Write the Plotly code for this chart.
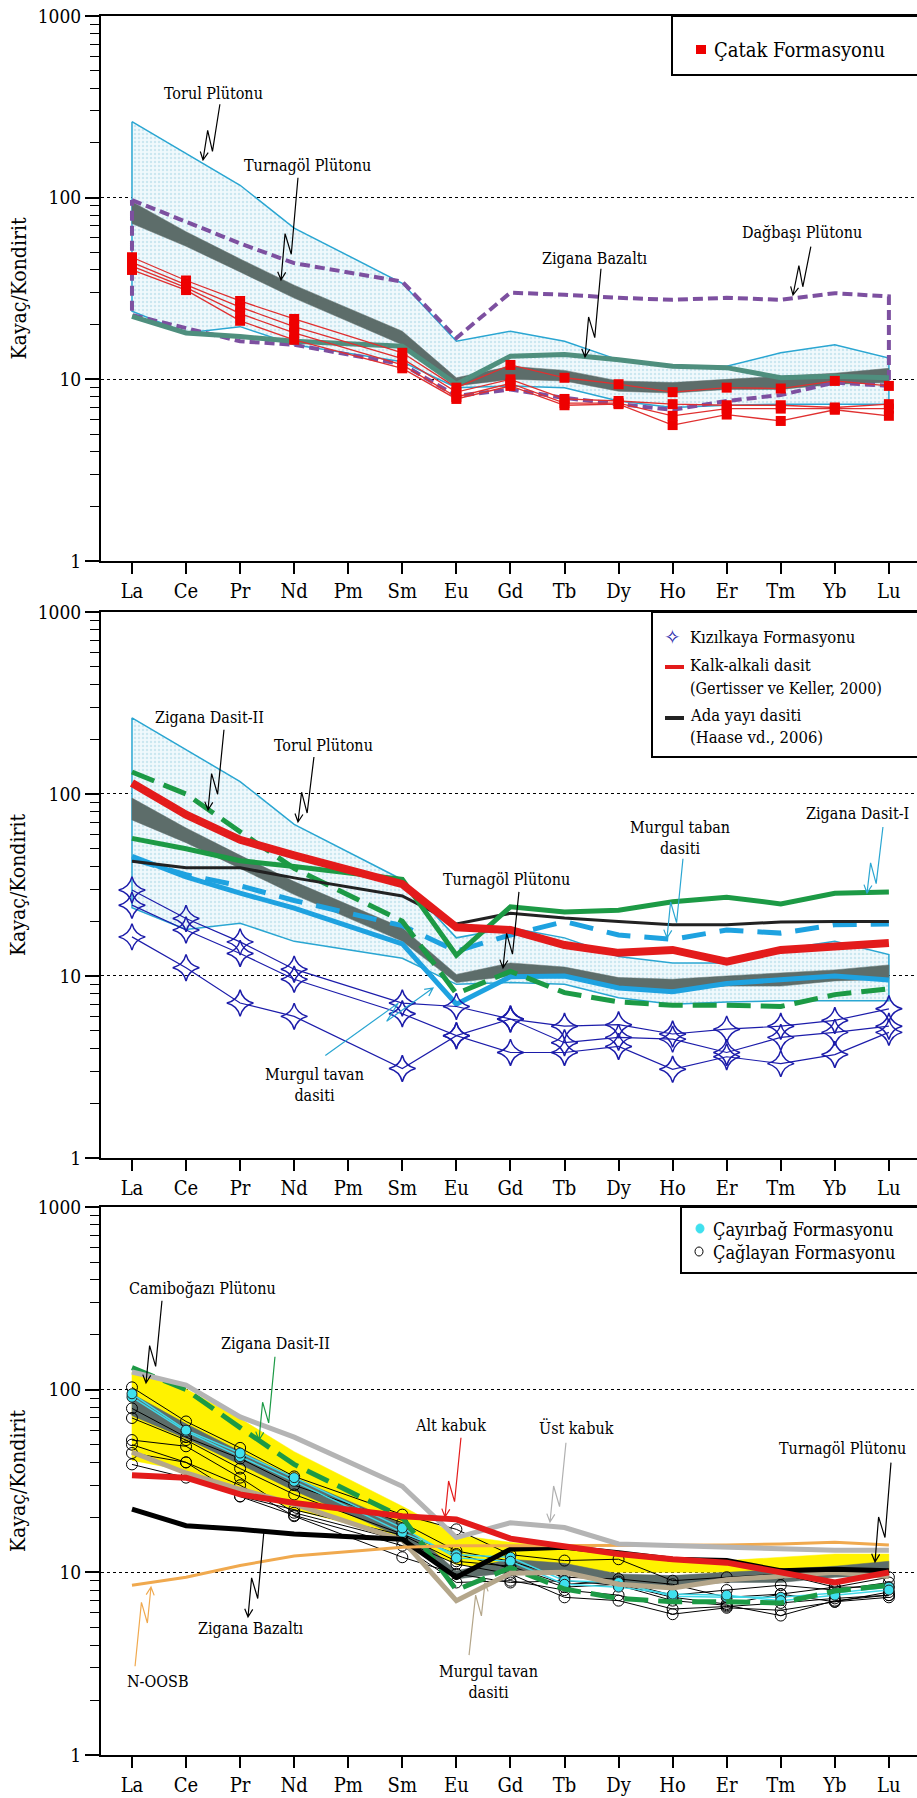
import math
import plotly.graph_objects as go

# ---------------- data ----------------
elements = ["La", "Ce", "Pr", "Nd", "Pm", "Sm", "Eu", "Gd", "Tb", "Dy", "Ho", "Er", "Tm", "Yb", "Lu"]
N = None

# envelopes / reference patterns
torul_upper = [262, 175, 117, 68, N, 33.8, 16.2, 18.4, 16.2, 12.8, 11.8, 11.8, 14.0, 15.5, 13.1]
torul_lower = [23.7, 18.0, 19.5, 15.5, N, 12.5, 9.0, 9.2, 9.0, 7.6, 7.0, 7.2, 7.3, 7.3, 7.3]
turnagol_upper = [95, 65, 46, 33, N, 18.4, 10.2, 11.8, 11.2, 9.8, 9.6, 10.0, 10.4, 10.8, 11.5]
turnagol_lower = [72, 54, 39, 28, N, 15.5, 9.2, 10.0, 9.8, 8.6, 8.4, 8.8, 8.8, 9.4, 9.6]
dagbasi_upper = [97, 74, 56, 43.6, N, 34.5, 16.9, 30.0, 29.2, 28.1, 27.4, 28.1, 27.4, 29.8, 28.6]
dagbasi_lower = [22.6, 19.1, 16.2, 15.5, N, 12.1, 8.1, 8.8, 7.9, 7.3, 6.8, 7.6, 8.2, 9.6, 9.2]
zigana_bazalti = [22.2, 18.0, 17.2, 16.2, N, 15.2, 9.4, 13.4, 13.7, 12.8, 11.8, 11.6, 10.2, 10.4, 10.2]

# Panel 1 samples - Catak Formasyonu
catak_1 = [47, 35, 27, 21.5, N, 14.0, 9.0, 12.0, 10.2, 9.4, 8.5, 9.0, 8.9, 9.8, 9.2]
catak_2 = [44, 33, 25, 19.5, N, 13.0, 8.5, 10.0, 7.8, 7.6, 7.3, 7.2, 7.2, 7.0, 7.3]
catak_3 = [42, 32, 23, 18.0, N, 12.0, 8.0, 9.5, 7.4, 7.4, 6.3, 6.9, 6.9, 6.9, 6.9]
catak_4 = [40, 31, 21, 16.5, N, 11.5, 7.8, 9.2, 7.2, 7.3, 5.6, 6.4, 5.9, 6.8, 6.3]

# Panel 2 patterns
zigana_dasit_2 = [132, 100, 62, 39, N, 20, 8.0, 10.6, 8.1, 7.2, 6.9, 6.9, 6.8, 7.9, 8.5]
kalk_alkali = [115, 77, 56, 46, N, 32, 18.5, 17.9, 14.8, 13.4, 13.9, 12.0, 13.9, 14.5, 15.2]
ada_yayi = [42.7, 39.3, 39.3, 34.6, N, 27.5, 19.3, 22.1, 20.8, 19.9, 19.1, 19.1, 19.8, 19.9, 19.9]
zigana_dasit_1 = [57, 50, 43, 40, N, 34, 13.0, 24, 22.5, 23, 25.6, 27.1, 24.9, 28.5, 28.9]
murgul_taban = [44, 36, 31.3, 26, N, 18.9, 13.7, 16.8, 19.9, 16.8, 15.9, 17.9, 17.2, 19.1, 19.3]
murgul_tavan = [45.5, 35, 28.5, 23.6, N, 15.0, 7.0, 9.9, 10.0, 8.6, 8.2, 9.1, 9.6, 10.0, 9.5]

# Panel 2 samples - Kizilkaya Formasyonu
kizilkaya_1 = [29.7, 20.7, 15.4, 10.9, N, 7.1, 6.8, 5.8, 5.3, 5.4, 4.8, 5.1, 5.3, 5.7, 6.6]
kizilkaya_2 = [24.5, 17.9, 13.3, 9.6, N, 6.2, 4.7, 5.8, 4.3, 4.6, 4.5, 3.8, 4.6, 4.9, 5.3]
kizilkaya_3 = [16.4, 11.1, 7.1, 6.0, N, 3.1, 4.7, 3.8, 3.8, 4.1, 3.07, 3.6, 3.3, 3.7, 4.9]

# Panel 3 patterns
camibogazi_upper = [125, 101, 69.5, 45.8, N, 23, 16, 14.6, 13.7, 12.3, 11.6, 11.6, 12.1, 12.6, 12.6]
camibogazi_lower = [41, 36, 29, 22, N, 15.5, 11, 10.5, 10.2, 10, 10, 10, 10, 10, 10]
ust_kabuk = [125, 106, 71, 55, N, 29.6, 15.5, 18.7, 17.6, 14.3, 14.0, 13.8, 13.6, 13.2, 13.2]
alt_kabuk = [34, 33, 26.7, 24, N, 20.3, 19.5, 15.3, 14.0, 12.6, 11.8, 11.3, 10.0, 8.8, 10.0]
n_oosb = [8.5, 9.4, 10.9, 12.3, N, 13.7, 14.0, 14.0, 14.0, 14.0, 14.0, 14.1, 14.3, 14.6, 14.1]

# Panel 3 samples
caglayan_1 = [103, 67, 48, 33.5, N, 20.7, 17.2, 12.5, 11.6, 11.8, 9.0, 9.4, 9.8, 8.3, 9.4]
caglayan_2 = [79, 55, 42, 30, N, 18.7, 13.1, 11.5, 9.4, 9.2, 8.6, 7.3, 7.6, 8.3, 8.3]
caglayan_3 = [70, 53, 37, 26.7, N, 16.2, 12.6, 10.5, 8.3, 8.6, 7.3, 6.7, 7.6, 6.9, 7.8]
caglayan_4 = [53, 49, 33, 21.2, N, 14.9, 11.1, 9.8, 7.3, 7.0, 5.9, 6.4, 6.2, 6.9, 7.3]
caglayan_5 = [50, 40, 30, 20.3, N, 12.1, 9.8, 8.8, 9.0, 8.5, 7.0, 6.6, 5.8, 7.0, 7.5]
caglayan_6 = [45, 40, 26, 20.5, N, 14.0, 8.8, 9.0, 8.0, 7.5, 6.3, 6.5, 6.8, 7.2, 7.5]
caglayan_7 = [39, 33, 26.1, 22, N, 16.0, 11.5, 10.8, 8.6, 8.9, 7.5, 8.0, 8.5, 8.0, 8.8]
cayirbag_1 = [91, 59, 43, 31.5, N, 16.5, 12.5, 12.1, 9.0, 8.8, 7.4, 7.3, 7.3, 7.7, 8.3]
cayirbag_2 = [95, 60, 45, 33, N, 17.5, 12.0, 11.5, 8.6, 8.3, 7.6, 7.5, 7.0, 7.5, 8.0]

y_ticks = [1, 10, 100, 1000]

# ---------------- geometry ----------------
W, H = 917, 1798
ML, MR, MT, MB = 101, 0, 16, 43
PW = W - ML - MR
PH = H - MT - MB


def px(x):
    return (x - ML) / PW


def py(y):
    return (H - MB - y) / PH


FONT = "DejaVu Serif Condensed, Liberation Serif, DejaVu Serif, serif"
xidx = list(range(len(elements)))

fig = go.Figure()


def axes(row):
    return ("x" if row == 1 else f"x{row}", "y" if row == 1 else f"y{row}")


def add_line(row, vals, color, width, dash="solid", mode="lines", marker=None):
    xa, ya = axes(row)
    fig.add_trace(go.Scatter(
        x=xidx, y=vals, xaxis=xa, yaxis=ya, mode=mode, connectgaps=True,
        line=dict(color=color, width=width, dash=dash),
        marker=marker, showlegend=False, hoverinfo="skip"))


def add_band(row, upper, lower, fillcolor, linecolor=None, width=0, dash="solid",
             fill=True, pattern=None):
    xa, ya = axes(row)
    idx = [i for i, v in enumerate(upper) if v is not None]
    xs = idx + idx[::-1] + [idx[0]]
    ys = [upper[i] for i in idx] + [lower[i] for i in idx[::-1]] + [upper[idx[0]]]
    kw = {}
    if fill:
        kw["fill"] = "toself"
        kw["fillcolor"] = fillcolor
        if pattern:
            kw["fillpattern"] = pattern
    fig.add_trace(go.Scatter(
        x=xs, y=ys, xaxis=xa, yaxis=ya, mode="lines",
        line=dict(color=linecolor if linecolor else fillcolor, width=width, dash=dash),
        showlegend=False, hoverinfo="skip", **kw))


CYAN_T = "#2aa6d2"
GRAY_B = "#5d6d6a"
PURPLE = "#7d50a0"
ZB_GREEN = "#4f8f7e"
RED = "#e31b1b"
GREEN = "#1c9a45"
CYAN = "#1ea2e0"
BLUE = "#1c1caa"

torul_pattern = dict(shape=".", bgcolor="#f0f9fc", fgcolor="#a6d3e4", size=4, solidity=0.3)

# ---- Panel 1 ----
add_band(1, torul_upper, torul_lower, "#f0f9fc", CYAN_T, 1.5, pattern=torul_pattern)
add_band(1, turnagol_upper, turnagol_lower, GRAY_B, GRAY_B, 0.5)
add_band(1, dagbasi_upper, dagbasi_lower, None, PURPLE, 4, dash="10px,5px", fill=False)
add_line(1, zigana_bazalti, ZB_GREEN, 5)
for s in [catak_1, catak_2, catak_3, catak_4]:
    add_line(1, s, "#e03030", 1.3, mode="lines+markers",
             marker=dict(symbol="square", size=10, color="#ee0000"))

# ---- Panel 2 ----
add_band(2, torul_upper, torul_lower, "#f0f9fc", CYAN_T, 1.5, pattern=torul_pattern)
add_band(2, turnagol_upper, turnagol_lower, GRAY_B, GRAY_B, 0.5)
add_line(2, murgul_tavan, CYAN, 5)
add_line(2, murgul_taban, CYAN, 5, dash="24px,14px")
add_line(2, zigana_dasit_2, GREEN, 5, dash="24px,10px")
add_line(2, ada_yayi, "#222222", 3)
add_line(2, zigana_dasit_1, GREEN, 5)
add_line(2, kalk_alkali, RED, 8)
for s in [kizilkaya_1, kizilkaya_2, kizilkaya_3]:
    add_line(2, s, BLUE, 1.2, mode="lines+markers",
             marker=dict(symbol="star-diamond-open", size=19, color=BLUE,
                         line=dict(width=1.5, color=BLUE)))

# ---- Panel 3 ----
add_band(3, camibogazi_upper, camibogazi_lower, "#fff200", "#fff200", 0.5)
add_band(3, turnagol_upper, turnagol_lower, GRAY_B, GRAY_B, 0.5)
for s in [caglayan_1, caglayan_2, caglayan_3, caglayan_4, caglayan_5, caglayan_6, caglayan_7]:
    add_line(3, s, "#000000", 1, mode="lines+markers",
             marker=dict(symbol="circle-open", size=11, color="#000000",
                         line=dict(width=1, color="#000000")))
for s in [cayirbag_1, cayirbag_2]:
    add_line(3, s, "#3fd8e8", 1.5, mode="lines+markers",
             marker=dict(symbol="circle", size=10, color="#3fe0ee",
                         line=dict(width=1, color="#222222")))
add_line(3, zigana_dasit_2, GREEN, 5, dash="24px,10px")
add_line(3, murgul_tavan, "#b4a68a", 5)
add_line(3, zigana_bazalti, "#000000", 5)
add_line(3, n_oosb, "#f0a94e", 3)
add_line(3, ust_kabuk, "#b4b4b4", 5)
add_line(3, alt_kabuk, RED, 6)

# ---------------- axes ----------------
domains = [(0.6866, 1.0), (0.3433, 0.6573), (0.0, 0.3151)]
minor_vals = [m * 10 ** k for k in range(3) for m in range(2, 10)]
for r in range(1, 4):
    xa = "xaxis" if r == 1 else f"xaxis{r}"
    ya = "yaxis" if r == 1 else f"yaxis{r}"
    yname = "y" if r == 1 else f"y{r}"
    xname = "x" if r == 1 else f"x{r}"
    fig.update_layout(**{
        xa: dict(domain=[0, 1], anchor=yname, range=[-0.573, 14.52],
                 tickmode="array", tickvals=xidx, ticktext=elements,
                 ticks="outside", ticklen=11, tickwidth=1.5, tickcolor="black",
                 showline=True, linewidth=2, linecolor="black", mirror=True,
                 showgrid=False, zeroline=False,
                 tickfont=dict(family=FONT, size=20, color="black")),
        ya: dict(domain=list(domains[r - 1]), anchor=xname, type="log", range=[0, 3],
                 tickmode="array", tickvals=y_ticks, ticktext=[str(v) for v in y_ticks],
                 ticks="outside", ticklen=14, tickwidth=1.5, tickcolor="black",
                 minor=dict(tickmode="array", tickvals=minor_vals, ticks="outside",
                            ticklen=9, tickwidth=1.3, tickcolor="black", showgrid=False),
                 showline=True, linewidth=2, linecolor="black",
                 showgrid=True, gridcolor="black", griddash="dot", gridwidth=1.3,
                 zeroline=False,
                 tickfont=dict(family=FONT, size=19, color="black")),
    })

# ---------------- annotations & shapes ----------------
annotations = []
shapes = []


def text(t, x, y, size=16, xanchor="center", color="black", family=FONT):
    annotations.append(dict(text=t, x=px(x), y=py(y), xref="paper", yref="paper",
                            xanchor=xanchor, yanchor="middle", showarrow=False,
                            font=dict(family=family, size=size, color=color)))


def zig_arrow(tail, tip, color="black", width=1.2):
    tx, ty = tip
    dx, dy = tip[0] - tail[0], tip[1] - tail[1]
    L = math.hypot(dx, dy)
    ux, uy = dx / L, dy / L
    pxv, pyv = uy, -ux
    a = max(0.45 * L, 30)
    S = (tx - L * ux + 8 * pxv, ty - L * uy + 8 * pyv)
    M1 = (tx - (a - 20) * ux + 8 * pxv, ty - (a - 20) * uy + 8 * pyv)
    M2 = (tx - a * ux, ty - a * uy)
    h1 = (tx - 8 * ux + 4 * pxv, ty - 8 * uy + 4 * pyv)
    h2 = (tx - 8 * ux - 4 * pxv, ty - 8 * uy - 4 * pyv)
    pts = [S, M1, M2, (tx, ty)]
    path = "M " + " L ".join(f"{px(p[0]):.5f},{py(p[1]):.5f}" for p in pts)
    path += f" M {px(h1[0]):.5f},{py(h1[1]):.5f} L {px(tx):.5f},{py(ty):.5f} L {px(h2[0]):.5f},{py(h2[1]):.5f}"
    shapes.append(dict(type="path", path=path, xref="paper", yref="paper",
                       line=dict(color=color, width=width)))


def rect(x0, y0, x1, y1, color="black", width=2, fill=None):
    shapes.append(dict(type="rect", xref="paper", yref="paper",
                       x0=px(x0), x1=px(x1), y0=py(y1), y1=py(y0),
                       line=dict(color=color, width=width),
                       fillcolor=fill if fill else "rgba(0,0,0,0)"))


def seg(x0, y0, x1, y1, color, width):
    shapes.append(dict(type="line", xref="paper", yref="paper",
                       x0=px(x0), x1=px(x1), y0=py(y0), y1=py(y1),
                       line=dict(color=color, width=width)))


# Panel 1 labels
text("Torul Plütonu", 213, 93)
zig_arrow((212, 103), (203, 160))
text("Turnagöl Plütonu", 307, 165)
zig_arrow((290, 177), (281, 280))
text("Zigana Bazaltı", 595, 258)
zig_arrow((593, 268), (585, 357))
text("Dağbaşı Plütonu", 802, 233)
zig_arrow((803, 245), (793, 295))

# Panel 2 labels
text("Zigana Dasit-II", 209, 717)
zig_arrow((216, 729), (208, 810))
text("Torul Plütonu", 323, 745)
zig_arrow((306, 756), (298, 822))
text("Turnagöl Plütonu", 506, 879)
zig_arrow((511, 891), (503, 968))
text("Murgul taban<br>dasiti", 680, 838)
zig_arrow((675, 858), (667, 938), color=CYAN_T)
text("Zigana Dasit-I", 857, 814)
zig_arrow((875, 826), (867, 893), color=CYAN_T)
text("Murgul tavan<br>dasiti", 314, 1085)
zig_arrow((330, 1062), (433, 988), color=CYAN_T)

# Panel 3 labels
text("Camiboğazı Plütonu", 202, 1288)
zig_arrow((154, 1300), (146, 1383))
text("Zigana Dasit-II", 275, 1343)
zig_arrow((267, 1356), (259, 1440), color=GREEN)
text("Alt kabuk", 450, 1425)
zig_arrow((453, 1437), (445, 1517), color=RED)
text("Üst kabuk", 576, 1428)
zig_arrow((558, 1442), (550, 1522), color="#b0b0b0")
text("Turnagöl Plütonu", 842, 1448)
zig_arrow((883, 1462), (875, 1562))
text("Zigana Bazaltı", 251, 1628)
zig_arrow((256, 1530), (248, 1617))
text("N-OOSB", 158, 1681)
zig_arrow((143, 1667), (151, 1587), color="#f0a94e")
text("Murgul tavan<br>dasiti", 488, 1682)
zig_arrow((477, 1656), (485, 1583), color="#b4a68a")

# Legends
rect(672, 16, 930, 75)
rect(696, 45, 706, 54, color="#ee0000", width=0, fill="#ee0000")
text("Çatak Formasyonu", 712, 50, size=20, xanchor="left")

rect(652, 612, 930, 757)
text("✧", 672, 637, size=20, color=BLUE, family="DejaVu Sans")
text("Kızılkaya Formasyonu", 688, 637, size=16.5, xanchor="left")
seg(665, 667, 684, 667, RED, 4)
text("Kalk-alkali dasit", 688, 665, size=16.5, xanchor="left")
text("(Gertisser ve Keller, 2000)", 688, 688, size=16, xanchor="left")
seg(665, 718, 684, 718, "#222222", 4)
text("Ada yayı dasiti", 688, 715, size=16.5, xanchor="left")
text("(Haase vd., 2006)", 688, 737, size=16.5, xanchor="left")

rect(681, 1207, 930, 1273)
shapes.append(dict(type="circle", xref="paper", yref="paper",
                   x0=px(696), x1=px(704), y0=py(1233), y1=py(1224),
                   line=dict(color="#3fe0ee", width=1), fillcolor="#3fe0ee"))
shapes.append(dict(type="circle", xref="paper", yref="paper",
                   x0=px(695), x1=px(703), y0=py(1256), y1=py(1247),
                   line=dict(color="black", width=1), fillcolor="rgba(0,0,0,0)"))
text("Çayırbağ Formasyonu", 711, 1229, size=18, xanchor="left")
text("Çağlayan Formasyonu", 711, 1252, size=18, xanchor="left")

# y titles
for (top, bot) in [(16, 561), (612, 1158), (1207, 1755)]:
    annotations.append(dict(text="Kayaç/Kondirit", x=px(18), y=py((top + bot) / 2),
                            xref="paper", yref="paper", xanchor="center", yanchor="middle",
                            textangle=-90, showarrow=False,
                            font=dict(family=FONT, size=21, color="black")))

fig.update_layout(
    width=W, height=H,
    margin=dict(l=ML, r=MR, t=MT, b=MB),
    paper_bgcolor="white", plot_bgcolor="white",
    showlegend=False,
    annotations=annotations, shapes=shapes,
    font=dict(family=FONT, color="black"),
)

fig.write_html("out.html")
